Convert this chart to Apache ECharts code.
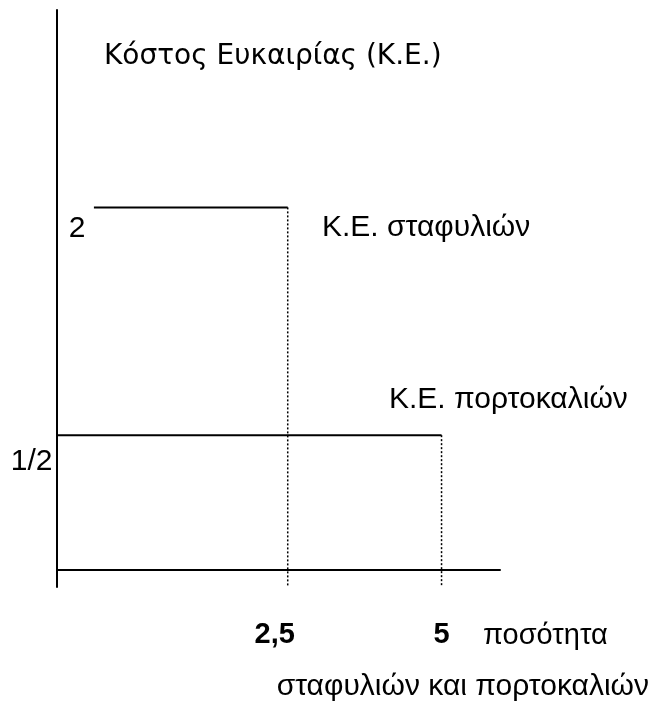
<!DOCTYPE html>
<html><head><meta charset="utf-8">
<script src="https://cdn.jsdelivr.net/npm/echarts@6/dist/echarts.min.js"></script>
<style>html,body{margin:0;padding:0;background:#fff}#c{width:650px;height:701px}</style>
</head><body><div id="c"></div>
<script>
// Data
const grapeCost = 2;          // Κ.Ε. σταφυλιών
const orangeCost = 0.5;       // Κ.Ε. πορτοκαλιών
const grapeQty = 2.5;
const orangeQty = 5;
const upperStep = [[-0.65, grapeCost], [grapeQty, grapeCost]];
const upperDrop = [[grapeQty, grapeCost], [grapeQty, -0.5]];
const lowerStep = [[-1.25, orangeCost], [orangeQty, orangeCost]];
const lowerDrop = [[orangeQty, orangeCost], [orangeQty, -0.5]];
const xTickLabels = {2.5: '2,5', 5: '5'};
const yLabels = {grape: '2', orange: '1/2'};
const texts = {
  title: 'Κόστος Ευκαιρίας (Κ.Ε.)',
  grape: 'Κ.Ε. σταφυλιών',
  orange: 'Κ.Ε. πορτοκαλιών',
  xName1: 'ποσότητα',
  xName2: 'σταφυλιών και πορτοκαλιών'
};

const AR = '"Liberation Sans", Arial, sans-serif';
const chart = echarts.init(document.getElementById('c'));
const solid = {color: '#000', width: 2};
const dotted = {color: '#000', width: 1.5, type: [2, 2]};
const pointLabel = (txt, dist, off) => ({show: true, formatter: txt, position: 'left', distance: dist, offset: off, fontFamily: AR, fontSize: 30, color: '#000'});
chart.setOption({
  animation: false,
  grid: {left: 57, right: 150, top: 10, bottom: 114},
  xAxis: {
    type: 'value', min: -1.25, max: 5.95, interval: 1.25,
    offset: -17,
    axisLine: {show: true, onZero: false, lineStyle: {color: '#000', width: 2}},
    axisTick: {show: false}, splitLine: {show: false},
    axisLabel: {
      show: true, margin: 50,
      fontFamily: AR, fontSize: 29, fontWeight: 'bold', color: '#000',
      formatter: v => xTickLabels[v] ? (v === 2.5 ? '{a|' + xTickLabels[v] + '}' : xTickLabels[v]) : '',
      rich: {a: {fontFamily: AR, fontSize: 29, fontWeight: 'bold', color: '#000', padding: [0, 26, 0, 0]}}
    }
  },
  yAxis: {
    type: 'value', min: -0.5, max: 3.3,
    axisLine: {show: true, onZero: false, lineStyle: {color: '#000', width: 2}},
    axisTick: {show: false}, splitLine: {show: false}, axisLabel: {show: false}
  },
  series: [
    {type: 'line', data: upperStep.map((p, i) => i === 0 ? {value: p, label: pointLabel(yLabels.grape, 8, [0, 21])} : p),
     symbol: 'circle', symbolSize: 1, showSymbol: true, itemStyle: {color: 'rgba(0,0,0,0)'}, lineStyle: solid, silent: true},
    {type: 'line', data: upperDrop, symbol: 'none', lineStyle: dotted, silent: true},
    {type: 'line', data: lowerStep.map((p, i) => i === 0 ? {value: p, label: pointLabel(yLabels.orange, 4, [0, 27])} : p),
     symbol: 'circle', symbolSize: 1, showSymbol: true, itemStyle: {color: 'rgba(0,0,0,0)'}, lineStyle: solid, silent: true},
    {type: 'line', data: lowerDrop, symbol: 'none', lineStyle: dotted, silent: true}
  ],
  graphic: [
    {type: 'text', x: 104, y: 57, style: {text: texts.title, font: '28px "DejaVu Sans", sans-serif', fill: '#000', verticalAlign: 'middle'}},
    {type: 'text', x: 322, y: 228, style: {text: texts.grape, font: '30px ' + AR, fill: '#000', verticalAlign: 'middle'}},
    {type: 'text', x: 389, y: 400, style: {text: texts.orange, font: '30px ' + AR, fill: '#000', verticalAlign: 'middle'}},
    {type: 'text', x: 483, y: 636, style: {text: texts.xName1, font: '29px ' + AR, fill: '#000', verticalAlign: 'middle'}},
    {type: 'text', x: 649, y: 687, style: {text: texts.xName2, font: '30px ' + AR, fill: '#000', align: 'right', verticalAlign: 'middle'}}
  ]
});
</script></body></html>
